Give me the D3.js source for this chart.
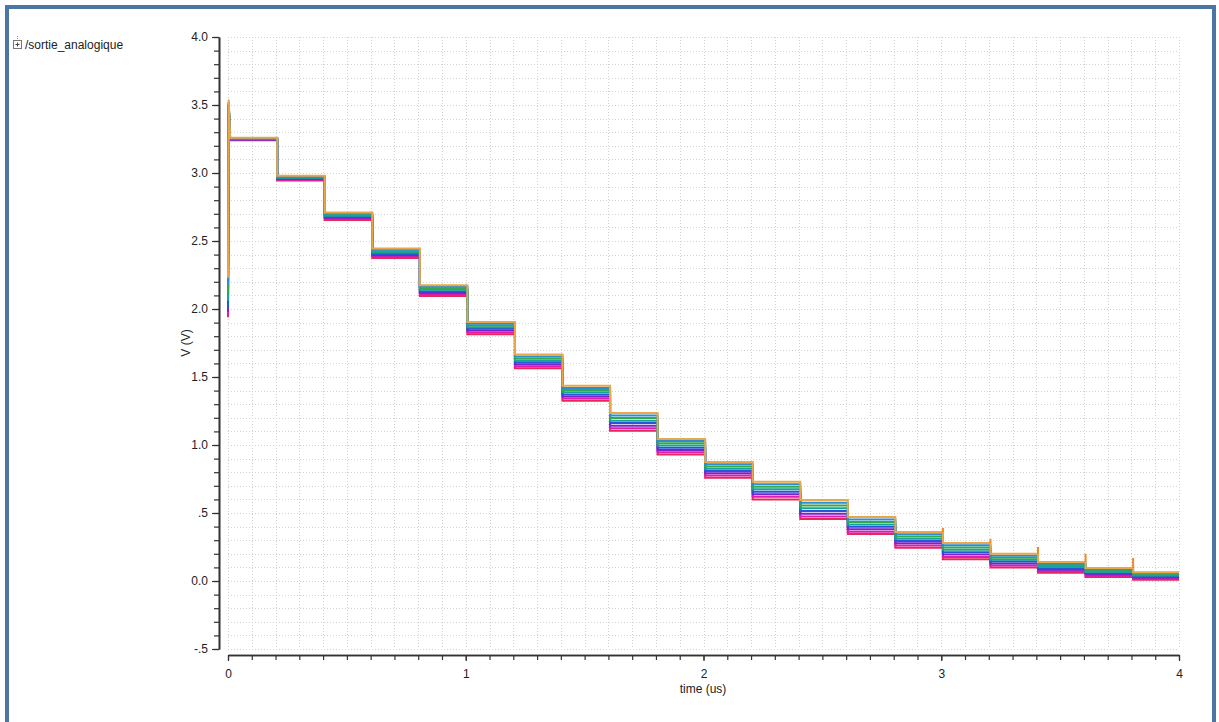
<!DOCTYPE html>
<html>
<head>
<meta charset="utf-8">
<script src="https://cdn.jsdelivr.net/npm/d3@7"></script>
<style>
  html, body { margin: 0; padding: 0; background: #fff; }
  svg { display: block; font-family: "Liberation Sans", Arial, sans-serif; }
</style>
</head>
<body>
<svg id="chart" width="1219" height="722"></svg>
<script>
// ---------------- DATA ----------------
const signalName = "/sortie_analogique";
const xTitle = "time (us)";
const yTitle = "V (V)";

// transition instants between the staircase levels (us)
const stepTimes = [0.207, 0.407, 0.607, 0.807, 1.007, 1.207, 1.407, 1.607, 1.807,
                   2.007, 2.207, 2.407, 2.607, 2.807, 3.007, 3.207, 3.407, 3.607, 3.807];

// staircase levels (V) of each swept trace, 20 levels per trace
const trace0 = [3.260,2.980,2.710,2.445,2.175,1.905,1.665,1.435,1.235,1.045,0.875,0.730,0.595,0.470,0.360,0.280,0.200,0.140,0.095,0.065];
const trace1 = [3.257,2.975,2.702,2.435,2.164,1.892,1.651,1.419,1.216,1.029,0.859,0.711,0.575,0.452,0.344,0.263,0.186,0.129,0.086,0.057];
const trace2 = [3.254,2.970,2.694,2.425,2.152,1.879,1.636,1.404,1.198,1.012,0.842,0.693,0.555,0.434,0.327,0.246,0.171,0.117,0.076,0.049];
const trace3 = [3.251,2.965,2.686,2.415,2.141,1.866,1.622,1.388,1.179,0.996,0.826,0.674,0.535,0.416,0.311,0.229,0.157,0.106,0.067,0.041];
const trace4 = [3.249,2.960,2.679,2.405,2.129,1.854,1.608,1.372,1.161,0.979,0.809,0.656,0.515,0.399,0.294,0.211,0.143,0.094,0.058,0.034];
const trace5 = [3.246,2.955,2.671,2.395,2.118,1.841,1.594,1.356,1.142,0.963,0.793,0.637,0.495,0.381,0.278,0.194,0.129,0.083,0.049,0.026];
const trace6 = [3.243,2.950,2.663,2.385,2.106,1.828,1.579,1.341,1.124,0.946,0.776,0.619,0.475,0.363,0.261,0.177,0.114,0.071,0.039,0.018];
const trace7 = [3.240,2.945,2.655,2.375,2.095,1.815,1.565,1.325,1.105,0.930,0.760,0.600,0.455,0.345,0.245,0.160,0.100,0.060,0.030,0.010];

// start value at t=0 and power-up overshoot of each trace (V)
const startValues = [2.23, 2.18, 2.12, 2.06, 2.01, 1.98, 1.96, 1.94];
const peakValues  = [3.54, 3.52, 3.52, 3.51, 3.51, 3.50, 3.50, 3.50];
const peakTime = 0.003;
const settleTime = 0.009;

// switching glitches at the last transitions
const glitchTimes = [3.007, 3.207, 3.407, 3.607, 3.807];
const glitchPeaks = [0.39, 0.31, 0.25, 0.20, 0.17];

const traceColors = ["#eaa64a", "#2a8fd0", "#34a84c", "#18a396", "#2a55d6", "#7b22cf", "#e01cae", "#e8285a"];

const yMajorTicks = [4.0, 3.5, 3.0, 2.5, 2.0, 1.5, 1.0, 0.5, 0.0, -0.5];
const yMajorLabels = ["4.0", "3.5", "3.0", "2.5", "2.0", "1.5", "1.0", ".5", "0.0", "-.5"];
const xMajorTicks = [0, 1, 2, 3, 4];
const xMajorLabels = ["0", "1", "2", "3", "4"];

// ---------------- CHART ----------------
const traces = [trace0, trace1, trace2, trace3, trace4, trace5, trace6, trace7];
const svg = d3.select("#chart");

const x = d3.scaleLinear().domain([0, 4]).range([228, 1179]);
const y = d3.scaleLinear().domain([-0.5, 4]).range([649, 37]);

// frame
svg.append("rect").attr("x", 7).attr("y", 7).attr("width", 1207).attr("height", 740)
  .attr("fill", "#fff").attr("stroke", "#4a76a6").attr("stroke-width", 4);

// grid
const minorY = d3.range(-5, 41).map(i => i / 10);
const minorX = d3.range(0, 41).map(i => i / 10);
const grid = svg.append("g").attr("stroke", "#d2d2d2").attr("stroke-width", 1)
  .attr("stroke-dasharray", "1,2").attr("shape-rendering", "crispEdges");
grid.selectAll("line.h").data(minorY).join("line").attr("class", "h")
  .attr("x1", x(0)).attr("x2", x(4)).attr("y1", d => Math.round(y(d)) + 0.5).attr("y2", d => Math.round(y(d)) + 0.5);
grid.selectAll("line.v").data(minorX).join("line").attr("class", "v")
  .attr("y1", y(4)).attr("y2", y(-0.5)).attr("x1", d => Math.round(x(d)) + 0.5).attr("x2", d => Math.round(x(d)) + 0.5);

// axes
function styleAxis(g) {
  g.selectAll("path.domain").attr("stroke", "#333").attr("stroke-width", 1.6);
  g.selectAll(".tick line").attr("stroke", "#333").attr("stroke-width", 1.2);
  g.selectAll("text").attr("fill", "#222").style("font-size", "12px")
    .style("font-family", '"Liberation Sans", Arial, sans-serif');
}
const yAxisMinor = svg.append("g").attr("transform", "translate(219,0)")
  .call(d3.axisLeft(y).tickValues(minorY).tickSize(5).tickSizeOuter(0).tickFormat(""));
styleAxis(yAxisMinor);
const yAxisMajor = svg.append("g").attr("transform", "translate(219,0)")
  .call(d3.axisLeft(y).tickValues(yMajorTicks).tickSize(7).tickSizeOuter(0).tickPadding(4)
    .tickFormat((d, i) => yMajorLabels[i]));
styleAxis(yAxisMajor);

const xAxisMinor = svg.append("g").attr("transform", "translate(0,655)")
  .call(d3.axisBottom(x).tickValues(minorX).tickSize(5).tickSizeOuter(0).tickFormat(""));
styleAxis(xAxisMinor);
const xAxisMajor = svg.append("g").attr("transform", "translate(0,655)")
  .call(d3.axisBottom(x).tickValues(xMajorTicks).tickSize(6).tickSizeOuter(0).tickPadding(8)
    .tickFormat((d, i) => xMajorLabels[i]));
styleAxis(xAxisMajor);

// axis titles
svg.append("text").attr("transform", "translate(190,343) rotate(-90)")
  .attr("text-anchor", "middle").attr("fill", "#222").style("font-size", "12px").text(yTitle);
svg.append("text").attr("x", 703).attr("y", 693)
  .attr("text-anchor", "middle").attr("fill", "#222").style("font-size", "12px").text(xTitle);

// legend
const leg = svg.append("g");
leg.append("rect").attr("x", 13.5).attr("y", 40.5).attr("width", 8).attr("height", 8)
  .attr("fill", "#fff").attr("stroke", "#777").attr("stroke-width", 1);
leg.append("line").attr("x1", 15.5).attr("x2", 19.5).attr("y1", 44.5).attr("y2", 44.5).attr("stroke", "#444");
leg.append("line").attr("x1", 17.5).attr("x2", 17.5).attr("y1", 42.5).attr("y2", 46.5).attr("stroke", "#444");
leg.append("line").attr("x1", 17.5).attr("x2", 17.5).attr("y1", 36).attr("y2", 40).attr("stroke", "#999")
  .attr("stroke-dasharray", "1,1");
leg.append("text").attr("x", 25).attr("y", 49).attr("fill", "#222").style("font-size", "12px").text(signalName);

// traces
function tracePoints(levels, k) {
  const pts = [[0, startValues[k]], [peakTime, peakValues[k]], [settleTime, levels[0]]];
  stepTimes.forEach((t, i) => { pts.push([t, levels[i]]); pts.push([t, levels[i + 1]]); });
  pts.push([4, levels[levels.length - 1]]);
  return pts;
}
const line = d3.line().x(d => x(d[0])).y(d => y(d[1]));
const order = [7, 6, 5, 4, 3, 2, 1, 0];
const plot = svg.append("g");
order.forEach(k => {
  plot.append("path").attr("d", line(tracePoints(traces[k], k)))
    .attr("fill", "none").attr("stroke", traceColors[k]).attr("stroke-width", 2)
    .attr("stroke-linejoin", "miter");
});

// glitches
plot.selectAll("line.glitch").data(glitchTimes).join("line").attr("class", "glitch")
  .attr("x1", d => x(d)).attr("x2", d => x(d))
  .attr("y1", (d, i) => y(trace0[stepTimes.indexOf(d)]))
  .attr("y2", (d, i) => y(glitchPeaks[i]))
  .attr("stroke", "#f08a24").attr("stroke-width", 2);
</script>
</body>
</html>
